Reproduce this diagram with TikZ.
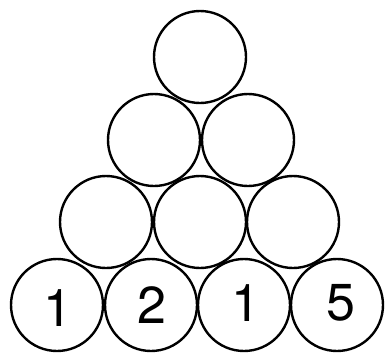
\documentclass[tikz,border=0pt]{standalone}
\usepackage{fontspec}
\setmainfont{TeX Gyre Heros}
\begin{document}
\begin{tikzpicture}[x=1pt,y=-1pt,
  ball/.style={circle,draw=black,line width=2.4pt,minimum size=92pt,inner sep=0pt,font=\fontsize{50}{50}\selectfont}]
\useasboundingbox (0,0) rectangle (388,354);
\node[ball] (t)  at (200,57) {};
\node[ball] (m1) at (154,140) {};
\node[ball] (m2) at (248,140) {};
\node[ball] (r1) at (106,222) {};
\node[ball] (r2) at (200,222) {};
\node[ball] (r3) at (293,222) {};
\node[ball] (b1) at (57,305) {};
\node[ball] (b2) at (151,305) {};
\node[ball] (b3) at (244,305) {};
\node[ball] (b4) at (337,305) {};
\node[font=\fontsize{52}{52}\selectfont] (n1) at (58,308) {1};
\node[font=\fontsize{52}{52}\selectfont] (n2) at (152,305) {2};
\node[font=\fontsize{52}{52}\selectfont] (n3) at (246,303) {1};
\node[font=\fontsize{52}{52}\selectfont] (n4) at (341,303) {5};
\end{tikzpicture}
\end{document}
